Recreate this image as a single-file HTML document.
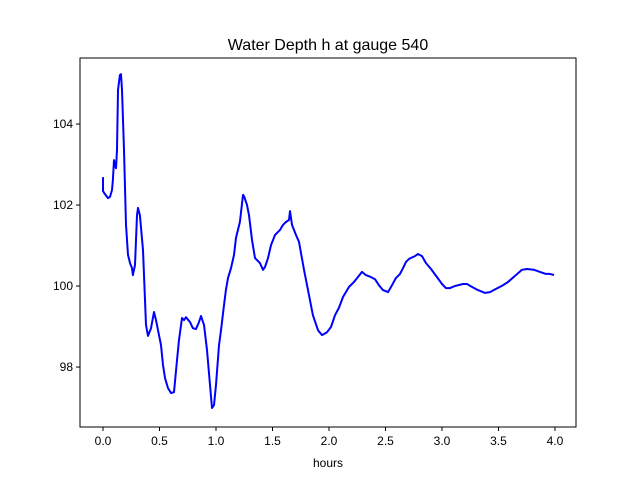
<!DOCTYPE html>
<html><head><meta charset="utf-8"><style>body{margin:0;background:#fff}svg{display:block;font-family:"Liberation Sans","DejaVu Sans",sans-serif}</style></head>
<body>
<svg id="chart" width="640" height="480">
<rect width="640" height="480" fill="#fff"/>
<text x="328" y="50" font-size="16" text-anchor="middle">Water Depth h at gauge 540</text>
<text x="328" y="467" font-size="12" text-anchor="middle">hours</text>
<g id="ticks"></g>
<path id="line" fill="none" stroke="#0000ff" stroke-width="2" stroke-linejoin="round"/>
<rect x="80" y="58" width="496" height="369" fill="none" stroke="#000" stroke-width="1"/>
</svg>
<script>
const hours=[0,0,0.01,0.044,0.062,0.08,0.088,0.097,0.106,0.115,0.124,0.133,0.15,0.159,0.168,0.186,0.204,0.221,0.239,0.257,0.265,0.283,0.301,0.31,0.327,0.354,0.381,0.398,0.425,0.451,0.469,0.487,0.513,0.531,0.549,0.575,0.602,0.628,0.655,0.673,0.699,0.717,0.735,0.77,0.796,0.823,0.85,0.867,0.894,0.92,0.947,0.965,0.982,1.0,1.027,1.044,1.071,1.088,1.106,1.133,1.159,1.177,1.212,1.239,1.248,1.274,1.292,1.319,1.345,1.389,1.416,1.434,1.46,1.487,1.522,1.566,1.593,1.619,1.646,1.655,1.673,1.708,1.735,1.779,1.814,1.858,1.903,1.938,1.982,2.018,2.053,2.088,2.124,2.177,2.221,2.292,2.327,2.372,2.407,2.442,2.478,2.522,2.558,2.593,2.628,2.655,2.681,2.708,2.761,2.788,2.823,2.858,2.903,2.956,3.0,3.035,3.071,3.115,3.186,3.221,3.265,3.319,3.381,3.425,3.478,3.54,3.584,3.646,3.708,3.752,3.814,3.867,3.92,3.956,3.991];
const depth=[102.69,102.35,102.3,102.17,102.2,102.37,102.62,103.11,102.99,102.91,103.36,104.84,105.21,105.23,104.84,103.36,101.51,100.77,100.57,100.44,100.27,100.52,101.75,101.93,101.75,100.89,99.04,98.77,98.96,99.36,99.16,98.91,98.54,98.05,97.73,97.48,97.36,97.38,98.17,98.67,99.21,99.16,99.23,99.11,98.96,98.94,99.11,99.26,99.04,98.42,97.56,96.99,97.06,97.56,98.54,98.91,99.53,99.9,100.2,100.44,100.77,101.19,101.58,102.25,102.22,102.0,101.75,101.14,100.69,100.57,100.4,100.47,100.69,101.01,101.26,101.38,101.51,101.58,101.63,101.85,101.51,101.26,101.09,100.4,99.9,99.28,98.91,98.79,98.86,98.99,99.28,99.46,99.73,99.98,100.1,100.35,100.27,100.22,100.17,100.02,99.9,99.85,100.02,100.2,100.3,100.44,100.59,100.67,100.74,100.79,100.74,100.57,100.42,100.22,100.05,99.95,99.95,100.0,100.05,100.05,99.98,99.9,99.83,99.85,99.93,100.02,100.1,100.25,100.4,100.42,100.4,100.35,100.3,100.3,100.27];
const xTicks=[0,0.5,1,1.5,2,2.5,3,3.5,4];
const xTickLabels=["0.0","0.5","1.0","1.5","2.0","2.5","3.0","3.5","4.0"];
const yTicks=[98,100,102,104];
const yTickLabels=["98","100","102","104"];
const X0=80,X1=576,Y0=427,Y1=58,xmin=-0.2035,xmax=4.186,ymin=96.52,ymax=105.63;
function sx(v){return X0+(v-xmin)/(xmax-xmin)*(X1-X0);}
function sy(v){return Y0-(v-ymin)/(ymax-ymin)*(Y0-Y1);}
const NS="http://www.w3.org/2000/svg",g=document.getElementById('ticks');
xTicks.forEach((t,i)=>{
 const l=document.createElementNS(NS,'line');
 l.setAttribute('x1',sx(t));l.setAttribute('x2',sx(t));l.setAttribute('y1',Y0);l.setAttribute('y2',Y0+4);l.setAttribute('stroke','#000');
 
 
 g.appendChild(l);
 const tx=document.createElementNS(NS,'text');
 tx.setAttribute('x',sx(t));tx.setAttribute('y',Y0+18);tx.setAttribute('font-size','12');tx.setAttribute('text-anchor','middle');
 tx.textContent=xTickLabels[i];
 
 
 g.appendChild(tx);
});
yTicks.forEach((t,i)=>{
 const l=document.createElementNS(NS,'line');
 l.setAttribute('x1',X0-4);l.setAttribute('x2',X0);l.setAttribute('y1',sy(t));l.setAttribute('y2',sy(t));l.setAttribute('stroke','#000');
 
 
 g.appendChild(l);
 const tx=document.createElementNS(NS,'text');
 tx.setAttribute('x',X0-7);tx.setAttribute('y',sy(t)+4);tx.setAttribute('font-size','12');tx.setAttribute('text-anchor','end');
 tx.textContent=yTickLabels[i];
 
 
 g.appendChild(tx);
});
document.getElementById('line').setAttribute('d',hours.map((h,i)=>(i?'L':'M')+sx(h).toFixed(1)+','+sy(depth[i]).toFixed(1)).join(''));
</script>
</body></html>
